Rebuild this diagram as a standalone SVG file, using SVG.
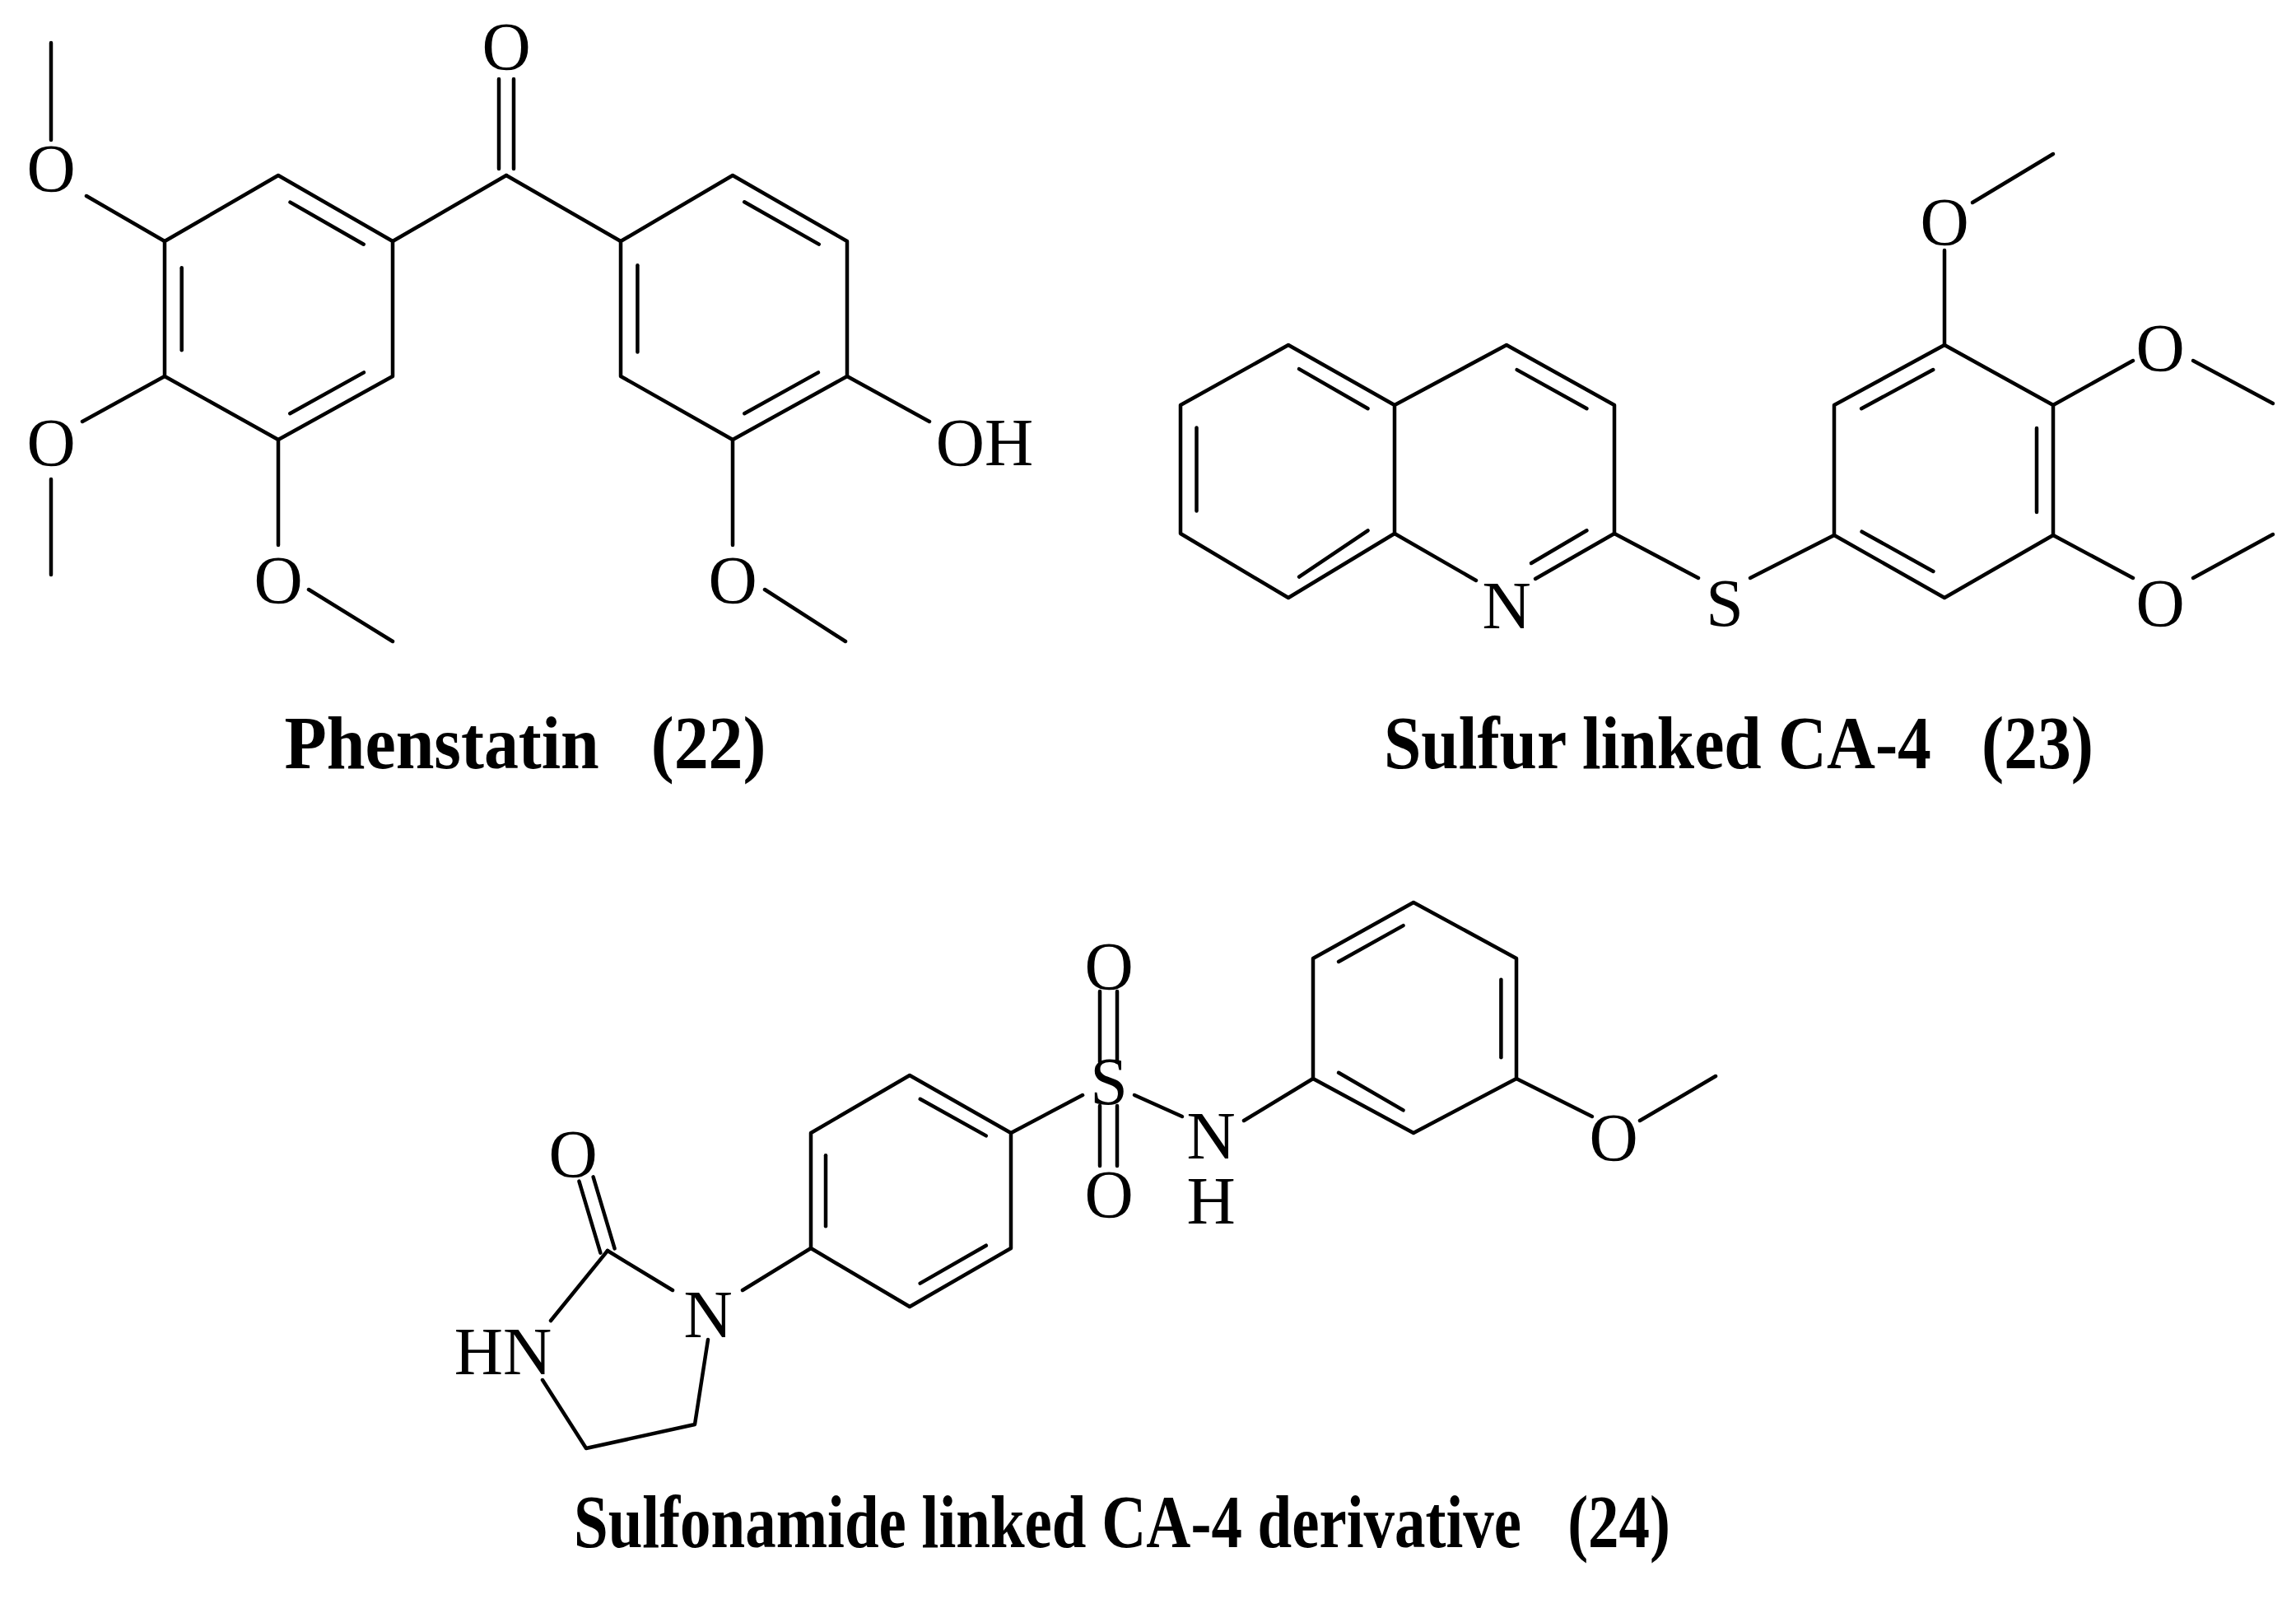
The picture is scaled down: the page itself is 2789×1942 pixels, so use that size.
<svg xmlns="http://www.w3.org/2000/svg" width="2789" height="1942" viewBox="0 0 2789 1942">
<style>
line,polyline,polygon{stroke:#000;stroke-width:4.5;fill:none;stroke-linecap:round;stroke-linejoin:round}
.a{font-family:"Liberation Serif",serif;font-size:82px;text-anchor:middle;fill:#000}
.t{font-family:"Liberation Serif",serif;font-size:90px;font-weight:bold;text-anchor:middle;fill:#000;white-space:pre}
</style>
<rect width="2789" height="1942" fill="#fff"/>
<g id="bonds">
<polygon points="338,213 477,293 477,457 338,534 200,457 200,293"/>
<line x1="352.5" y1="245.6" x2="441.7" y2="296.7"/>
<line x1="220.7" y1="325.2" x2="220.7" y2="425.2"/>
<line x1="442" y1="452.4" x2="352.2" y2="502.2"/>
<line x1="200" y1="293" x2="105" y2="238"/>
<line x1="62" y1="52" x2="62" y2="170"/>
<line x1="200" y1="457" x2="100" y2="512"/>
<line x1="62" y1="582" x2="62" y2="698"/>
<line x1="338" y1="534" x2="338" y2="662"/>
<line x1="375" y1="716" x2="477" y2="779"/>
<line x1="477" y1="293" x2="615" y2="213"/>
<line x1="615" y1="213" x2="754" y2="293"/>
<line x1="606" y1="205" x2="606" y2="96"/>
<line x1="624" y1="205" x2="624" y2="96"/>
<polygon points="890,213 1029,293 1029,457 890,534 754,457 754,293"/>
<line x1="904.2" y1="245.3" x2="994.7" y2="296.6"/>
<line x1="774.4" y1="322.2" x2="774.4" y2="427.5"/>
<line x1="994" y1="452.4" x2="904.2" y2="502.2"/>
<line x1="1029" y1="457" x2="1129" y2="512"/>
<line x1="890" y1="534" x2="890" y2="662"/>
<line x1="929" y1="716" x2="1027" y2="779"/>
<polyline points="1694,492 1565,419 1434,492 1434,648 1565,726 1694,648 1694,492 1830,419 1961,492 1961,648"/>
<line x1="1578" y1="448.1" x2="1661.6" y2="496.2"/>
<line x1="1453.5" y1="519.4" x2="1453.5" y2="620.4"/>
<line x1="1578" y1="700.6" x2="1661.6" y2="644.3"/>
<line x1="1842.6" y1="449.1" x2="1927.5" y2="496.2"/>
<line x1="1927.5" y1="644.3" x2="1860" y2="684"/>
<line x1="1694" y1="648" x2="1793" y2="705"/>
<line x1="1961" y1="648" x2="1865" y2="703"/>
<line x1="1961" y1="648" x2="2063" y2="702"/>
<line x1="2126" y1="702" x2="2228" y2="650"/>
<polygon points="2228,650 2228,492 2362,419 2494,492 2494,650 2362,726"/>
<line x1="2348.2" y1="449.1" x2="2261.1" y2="496.2"/>
<line x1="2261.6" y1="645.7" x2="2348.4" y2="694"/>
<line x1="2474" y1="519.9" x2="2474" y2="621.9"/>
<line x1="2362" y1="419" x2="2362" y2="304"/>
<line x1="2396" y1="246" x2="2494" y2="187"/>
<line x1="2494" y1="492" x2="2591" y2="438"/>
<line x1="2664" y1="438" x2="2761" y2="490"/>
<line x1="2494" y1="650" x2="2591" y2="702"/>
<line x1="2664" y1="702" x2="2761" y2="649"/>
<polygon points="1105,1306 1228,1376 1228,1516 1105,1587 985,1516 985,1376"/>
<line x1="1117.7" y1="1334.8" x2="1197.8" y2="1379.4"/>
<line x1="1003" y1="1403.2" x2="1003" y2="1489.3"/>
<line x1="1197.8" y1="1512.7" x2="1117.7" y2="1558.6"/>
<line x1="1228" y1="1376" x2="1315" y2="1330"/>
<line x1="1336" y1="1290" x2="1336" y2="1204"/>
<line x1="1357" y1="1290" x2="1357" y2="1204"/>
<line x1="1336" y1="1343" x2="1336" y2="1416"/>
<line x1="1357" y1="1343" x2="1357" y2="1416"/>
<line x1="1378" y1="1330" x2="1436" y2="1356"/>
<line x1="1511" y1="1361" x2="1595" y2="1310"/>
<polygon points="1595,1310 1595,1164 1717,1096 1842,1164 1842,1310 1717,1376"/>
<line x1="1626" y1="1168" x2="1704.6" y2="1124.1"/>
<line x1="1823.4" y1="1189.8" x2="1823.4" y2="1284.2"/>
<line x1="1626" y1="1302.8" x2="1704.6" y2="1348.4"/>
<line x1="1842" y1="1310" x2="1934" y2="1356"/>
<line x1="1992" y1="1361" x2="2084" y2="1307"/>
<line x1="902" y1="1567" x2="985" y2="1516"/>
<line x1="738" y1="1519" x2="817" y2="1567"/>
<line x1="746.6" y1="1516.4" x2="720.6" y2="1429.4"/>
<line x1="729.4" y1="1521.6" x2="703.4" y2="1434.6"/>
<line x1="738" y1="1519" x2="669" y2="1604"/>
<polyline points="659,1676 712,1759 844,1730 860,1627"/>
</g>
<g id="phenstatin">
<text class="a" x="615" y="84">O</text>
<text class="a" x="62" y="232">O</text>
<text class="a" x="62" y="565">O</text>
<text class="a" x="338" y="732">O</text>
<text class="a" x="890" y="732">O</text>
<text class="a" x="1196" y="565">OH</text>
<text class="t" x="638" y="933" textLength="585" lengthAdjust="spacingAndGlyphs" xml:space="preserve">Phenstatin   (22)</text>
</g>
<g id="sulfur-linked">
<text class="a" x="1830" y="763">N</text>
<text class="a" x="2095" y="760">S</text>
<text class="a" x="2362" y="297">O</text>
<text class="a" x="2624" y="450">O</text>
<text class="a" x="2624" y="760">O</text>
<text class="t" x="2112" y="933" textLength="862" lengthAdjust="spacingAndGlyphs" xml:space="preserve">Sulfur linked CA-4   (23)</text>
</g>
<g id="sulfonamide">
<text class="a" x="1347" y="1341">S</text>
<text class="a" x="1347" y="1201">O</text>
<text class="a" x="1347" y="1478">O</text>
<text class="a" x="1471" y="1407">N</text>
<text class="a" x="1471" y="1486">H</text>
<text class="a" x="1960" y="1409">O</text>
<text class="a" x="860" y="1624">N</text>
<text class="a" x="696" y="1429">O</text>
<text class="a" x="611" y="1669">HN</text>
<text class="t" x="1363" y="1879" textLength="1332" lengthAdjust="spacingAndGlyphs" xml:space="preserve">Sulfonamide linked CA-4 derivative   (24)</text>
</g>
</svg>
